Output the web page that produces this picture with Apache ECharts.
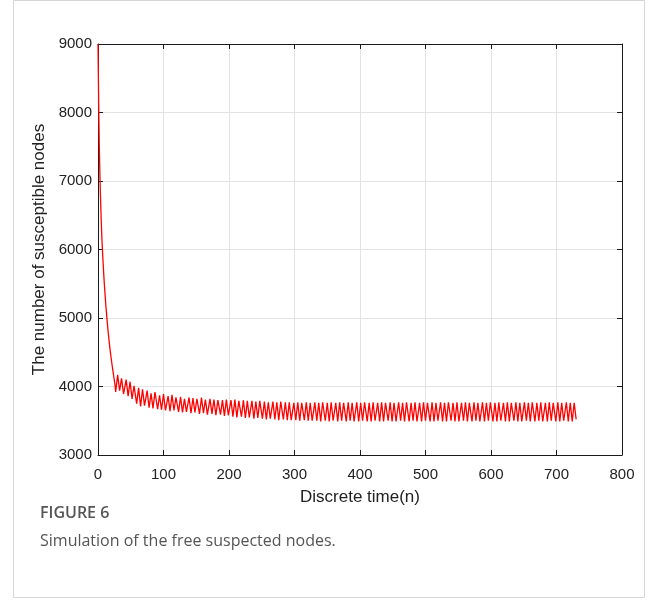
<!DOCTYPE html>
<html>
<head>
<meta charset="utf-8">
<script src="https://cdn.jsdelivr.net/npm/echarts@6/dist/echarts.min.js"></script>
<style>
html,body{margin:0;padding:0;background:#fff;}
#chart{width:658px;height:603px;}
</style>
</head>
<body>
<div id="chart"></div>
<script>
// Discrete time (n) and number of susceptible nodes
const times = [
  0,1,2,3,4,5,6,7,8,9,10,12,14,16,18,20,22,24,26,
  27,30,33,36,39, 43,46,49,52,55, 59,62,65,68,71, 75,78,81,84,87,
  91,94,97,100,103, 107,110,113,116,119, 123,126,129,132,135, 139,142,145,148,151,
  155,158,161,164,167, 171,174,177,180,183, 187,190,193,196,199, 203,206,209,212,215,
  219,222,225,228,231, 235,238,241,244,247, 251,254,257,260,263, 267,270,273,276,279,
  283,286,289,292,295, 299,302,305,308,311, 315,318,321,324,327, 331,334,337,340,343,
  347,350,353,356,359, 363,366,369,372,375, 379,382,385,388,391, 395,398,401,404,407,
  411,414,417,420,423, 427,430,433,436,439, 443,446,449,452,455, 459,462,465,468,471,
  475,478,481,484,487, 491,494,497,500,503, 507,510,513,516,519, 523,526,529,532,535,
  539,542,545,548,551, 555,558,561,564,567, 571,574,577,580,583, 587,590,593,596,599,
  603,606,609,612,615, 619,622,625,628,631, 635,638,641,644,647, 651,654,657,660,663,
  667,670,673,676,679, 683,686,689,692,695, 699,702,705,708,711, 715,718,721,724,727,
  730
];
const counts = [
  9000,8150,7500,7050,6700,6400,6150,5950,5770,5600,5450,5180,4950,4750,4570,4420,4280,4150,4020,
  3920,4170,3940,4120,3890, 4100,3860,4070,3820,4010, 3750,3980,3710,3960,3720, 3940,3690,3900,3680,3920,
  3670,3870,3660,3890,3650, 3860,3640,3880,3650,3840, 3630,3850,3620,3820,3630, 3840,3610,3830,3620,3820,
  3600,3840,3610,3810,3590, 3820,3600,3810,3580,3800, 3590,3800,3570,3810,3580, 3800,3560,3810,3550,3790,
  3560,3800,3540,3790,3550, 3790,3530,3780,3540,3790, 3530,3780,3520,3770,3530, 3780,3520,3770,3510,3780,
  3520,3770,3510,3770,3510, 3760,3510,3770,3500,3760, 3510,3770,3500,3760,3500, 3770,3500,3760,3490,3770,
  3500,3760,3490,3770,3500, 3760,3490,3770,3500,3760, 3490,3770,3500,3760,3490, 3770,3490,3760,3500,3770,
  3490,3760,3490,3770,3500, 3760,3490,3770,3490,3760, 3500,3770,3490,3760,3490, 3770,3500,3760,3490,3770,
  3490,3760,3500,3770,3490, 3760,3490,3770,3500,3760, 3490,3770,3490,3760,3500, 3770,3490,3760,3490,3770,
  3500,3760,3490,3770,3490, 3760,3500,3770,3490,3760, 3490,3770,3500,3760,3490, 3770,3490,3760,3500,3770,
  3490,3760,3490,3770,3500, 3760,3490,3770,3490,3760, 3500,3770,3490,3760,3490, 3770,3500,3760,3490,3770,
  3490,3760,3500,3770,3490, 3760,3490,3770,3500,3760, 3490,3770,3490,3760,3500, 3770,3490,3760,3490,3760,
  3520
];
const xTicks = [0,100,200,300,400,500,600,700,800];
const yTicks = [3000,4000,5000,6000,7000,8000,9000];
const xTitle = 'Discrete time(n)';
const yTitle = 'The number of susceptible nodes';
const figLabel = 'FIGURE 6';
const figCaption = 'Simulation of the free suspected nodes.';

const seriesData = times.map((t, i) => [t, counts[i]]);
const font = "'Liberation Sans', Arial, sans-serif";
const capFont = "'Open Sans', 'Noto Sans', sans-serif";
const axisColor = '#1a1a1a';

const chart = echarts.init(document.getElementById('chart'), null, {renderer: 'canvas'});
const baseX = {
  type: 'value', min: xTicks[0], max: xTicks[xTicks.length - 1],
  interval: xTicks[1] - xTicks[0]
};
const baseY = {
  type: 'value', min: yTicks[0], max: yTicks[yTicks.length - 1],
  interval: yTicks[1] - yTicks[0]
};
const plain = v => String(v);
chart.setOption({
  animation: false,
  backgroundColor: '#fff',
  grid: {left: 98, right: 36, top: 44, bottom: 148, containLabel: false},
  xAxis: [
    Object.assign({}, baseX, {
      position: 'bottom',
      name: xTitle, nameLocation: 'middle', nameGap: 34,
      nameTextStyle: {fontFamily: font, fontSize: 17, color: '#222'},
      axisLine: {show: true, onZero: false, lineStyle: {color: axisColor, width: 1}},
      axisTick: {show: true, inside: true, length: 5, lineStyle: {color: axisColor}},
      axisLabel: {fontFamily: font, fontSize: 15, color: '#222', margin: 12, formatter: plain},
      splitLine: {show: true, lineStyle: {color: '#e3e3e3', width: 1}}
    }),
    Object.assign({}, baseX, {
      position: 'top',
      axisLine: {show: true, onZero: false, lineStyle: {color: axisColor, width: 1}},
      axisTick: {show: true, inside: true, length: 5, lineStyle: {color: axisColor}},
      axisLabel: {show: false},
      splitLine: {show: false}
    })
  ],
  yAxis: [
    Object.assign({}, baseY, {
      position: 'left',
      name: yTitle, nameLocation: 'middle', nameGap: 47, nameRotate: 90,
      nameTextStyle: {fontFamily: font, fontSize: 17, color: '#222'},
      axisLine: {show: true, onZero: false, lineStyle: {color: axisColor, width: 1}},
      axisTick: {show: true, inside: true, length: 5, lineStyle: {color: axisColor}},
      axisLabel: {fontFamily: font, fontSize: 15, color: '#222', margin: 6, formatter: plain},
      splitLine: {show: true, lineStyle: {color: '#e3e3e3', width: 1}}
    }),
    Object.assign({}, baseY, {
      position: 'right',
      axisLine: {show: true, onZero: false, lineStyle: {color: axisColor, width: 1}},
      axisTick: {show: true, inside: true, length: 5, lineStyle: {color: axisColor}},
      axisLabel: {show: false},
      splitLine: {show: false}
    })
  ],
  series: [{
    type: 'line',
    xAxisIndex: 0, yAxisIndex: 0,
    data: seriesData,
    showSymbol: false,
    symbol: 'none',
    lineStyle: {color: '#ff0000', width: 1.3},
    z: 3
  }],
  graphic: [
    {type: 'rect', shape: {x: 13.5, y: 0.5, width: 631, height: 597},
     style: {fill: 'none', stroke: '#d6d6d6', lineWidth: 1}, silent: true, z: -1},
    {type: 'text', left: 40, top: 505,
     style: {text: figLabel, fontFamily: capFont, fontSize: 16, fontWeight: 600, fill: '#555'}},
    {type: 'text', left: 40, top: 533,
     style: {text: figCaption, fontFamily: capFont, fontSize: 16, fill: '#555'}}
  ]
});
</script>
</body>
</html>
